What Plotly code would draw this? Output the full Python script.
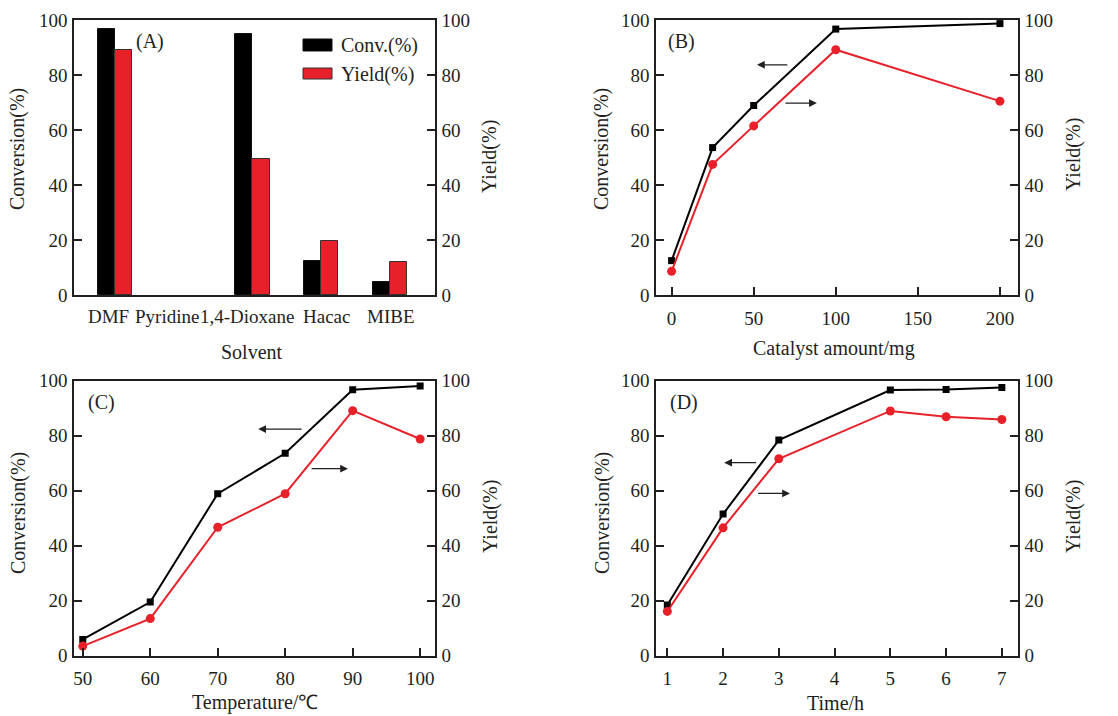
import plotly.graph_objects as go

# ---- data ----
solvents = ["DMF", "Pyridine", "1,4-Dioxane", "Hacac", "MIBE"]
solvent_conv = [96.7, 0, 94.8, 12.3, 4.8]
solvent_yield = [89.2, 0, 49.6, 19.5, 11.9]

catalyst_mg = [0, 25, 50, 100, 200]
catalyst_conv = [12.5, 53.6, 68.9, 96.7, 98.7]
catalyst_yield = [8.6, 47.5, 61.5, 89.2, 70.5]

temperature_c = [50, 60, 70, 80, 90, 100]
temperature_conv = [5.9, 19.5, 58.9, 73.6, 96.7, 98.1]
temperature_yield = [3.5, 13.5, 46.7, 58.9, 89.1, 78.8]

time_h = [1, 2, 3, 5, 6, 7]
time_conv = [18.4, 51.5, 78.4, 96.6, 96.8, 97.5]
time_yield = [16.1, 46.5, 71.6, 89.0, 86.9, 85.9]

W, H = 1118, 716
FONT = "Liberation Serif"
FS = 19      # tick labels
TS = 20      # titles and labels
INK = "#231f20"
RED = "#e8202a"


def fx(px):
    return px / W


def fy(px):
    return 1 - px / H


fig = go.Figure()

# ---- panel A: bars (empty bars get no outline) ----
fig.add_trace(go.Bar(x=solvents, y=solvent_conv, name="Conv.(%)", width=0.25, offset=-0.25,
                     marker=dict(color="#000000",
                                 line=dict(color="#111111",
                                           width=[1 if v > 0 else 0 for v in solvent_conv])),
                     xaxis="x", yaxis="y"))
fig.add_trace(go.Bar(x=solvents, y=solvent_yield, name="Yield(%)", width=0.25, offset=0,
                     marker=dict(color=RED,
                                 line=dict(color="#333333",
                                           width=[1 if v > 0 else 0 for v in solvent_yield])),
                     xaxis="x", yaxis="y2"))


def add_lines(xs, conv, yld, xa, ya_left, ya_right):
    fig.add_trace(go.Scatter(x=xs, y=conv, mode="lines+markers",
                             line=dict(color="#000000", width=2),
                             marker=dict(symbol="square", size=7, color="#000000"),
                             xaxis=xa, yaxis=ya_left))
    fig.add_trace(go.Scatter(x=xs, y=yld, mode="lines+markers",
                             line=dict(color=RED, width=2),
                             marker=dict(symbol="circle", size=9, color=RED),
                             xaxis=xa, yaxis=ya_right))


add_lines(catalyst_mg, catalyst_conv, catalyst_yield, "x2", "y3", "y4")
add_lines(temperature_c, temperature_conv, temperature_yield, "x3", "y5", "y6")
add_lines(time_h, time_conv, time_yield, "x4", "y7", "y8")

# ---- axes ----
left_dom = [fx(74), fx(435)]
right_dom = [fx(656), fx(1018)]
top_dom = [fy(295), fy(20)]
bot_dom = [fy(655.7), fy(380.7)]

axis_common = dict(showline=True, linecolor=INK, linewidth=1.5, ticks="inside",
                   ticklen=8, tickwidth=1.5, tickcolor=INK, showgrid=False,
                   zeroline=False, automargin=False,
                   tickfont=dict(family=FONT, size=FS, color=INK))

xaxis_common = dict(axis_common, mirror=True, ticklabelstandoff=5)
yaxis_common = dict(axis_common, range=[0, 100], tickvals=[0, 20, 40, 60, 80, 100],
                    ticklabelstandoff=1)

layout = dict(
    template="none",
    width=W, height=H, margin=dict(l=0, r=0, t=0, b=0, autoexpand=False),
    paper_bgcolor="white", plot_bgcolor="white", showlegend=False,
    font=dict(family=FONT, size=FS, color=INK),
    xaxis=dict(xaxis_common, domain=left_dom, anchor="y", ticks="",
               range=[-0.6, 4.66], showticklabels=False, type="category"),
    xaxis2=dict(xaxis_common, domain=right_dom, anchor="y3",
                range=[-9.5, 211], tickvals=[0, 50, 100, 150, 200]),
    xaxis3=dict(xaxis_common, domain=left_dom, anchor="y5",
                range=[48.7, 102.2], tickvals=[50, 60, 70, 80, 90, 100]),
    xaxis4=dict(xaxis_common, domain=right_dom, anchor="y7",
                range=[0.797, 7.29], tickvals=[1, 2, 3, 4, 5, 6, 7]),
    yaxis=dict(yaxis_common, domain=top_dom, anchor="x"),
    yaxis2=dict(yaxis_common, domain=top_dom, anchor="x", overlaying="y", side="right"),
    yaxis3=dict(yaxis_common, domain=top_dom, anchor="x2"),
    yaxis4=dict(yaxis_common, domain=top_dom, anchor="x2", overlaying="y3", side="right"),
    yaxis5=dict(yaxis_common, domain=bot_dom, anchor="x3"),
    yaxis6=dict(yaxis_common, domain=bot_dom, anchor="x3", overlaying="y5", side="right"),
    yaxis7=dict(yaxis_common, domain=bot_dom, anchor="x4"),
    yaxis8=dict(yaxis_common, domain=bot_dom, anchor="x4", overlaying="y7", side="right"),
    bargap=0,
)
fig.update_layout(**layout)

annotations = []


def text(x, y, s, angle=0, xanchor="center", yanchor="middle", size=TS):
    annotations.append(dict(x=fx(x), y=fy(y), xref="paper", yref="paper", text=s,
                            showarrow=False, textangle=angle, xanchor=xanchor,
                            yanchor=yanchor, font=dict(family=FONT, size=size, color=INK)))


# solvent category labels
label_pos = [108, 167, 247, 326, 391]
for name, xp in zip(solvents, label_pos):
    text(xp, 317, name, size=FS)

# axis titles
text(251.7, 352, "Solvent")
text(834, 348, "Catalyst amount/mg")
text(255, 716, "Temperature/℃", yanchor="bottom")
text(835, 716, "Time/h", yanchor="bottom")
for xp, yp in [(18, 149), (602, 149), (18, 513), (602, 513)]:
    text(xp, yp, "Conversion(%)", angle=-90)
for xp, yp in [(490, 157), (1073, 155), (490, 517), (1073, 517)]:
    text(xp, yp, "Yield(%)", angle=-90)

# panel tags
text(150, 42, "(A)")
text(681, 42, "(B)")
text(101, 402, "(C)")
text(683.5, 402, "(D)")

# legend of panel A
text(339, 45, "Conv.(%)", xanchor="left")
text(339, 74, "Yield(%)", xanchor="left")

# axis pointers (head, tail) in data coordinates
pointers = [
    ("x2", "y3", (52, 83.7), (71.4, 83.7)),
    ("x2", "y3", (88.5, 69.8), (68.4, 69.8)),
    ("x3", "y5", (76.0, 82.4), (82.65, 82.4)),
    ("x3", "y5", (89.3, 68.0), (83.7, 68.0)),
    ("x4", "y7", (2.02, 70.2), (2.62, 70.2)),
    ("x4", "y7", (3.2, 59.0), (2.6, 59.0)),
]
for xa, ya, head, tail in pointers:
    annotations.append(dict(x=head[0], y=head[1], ax=tail[0], ay=tail[1], xref=xa, yref=ya,
                            axref=xa, ayref=ya, text="", showarrow=True, arrowhead=2,
                            arrowsize=1.2, arrowwidth=1.3, arrowcolor=INK))

fig.update_layout(annotations=annotations)

# legend swatches for panel A
shapes = [
    dict(type="rect", xref="paper", yref="paper", x0=fx(303), x1=fx(332), y0=fy(51), y1=fy(39),
         fillcolor="#000000", line=dict(color="#111111", width=1)),
    dict(type="rect", xref="paper", yref="paper", x0=fx(303), x1=fx(332), y0=fy(79), y1=fy(68),
         fillcolor=RED, line=dict(color="#333333", width=1)),
]
fig.update_layout(shapes=shapes)

fig.write_html("out.html")
